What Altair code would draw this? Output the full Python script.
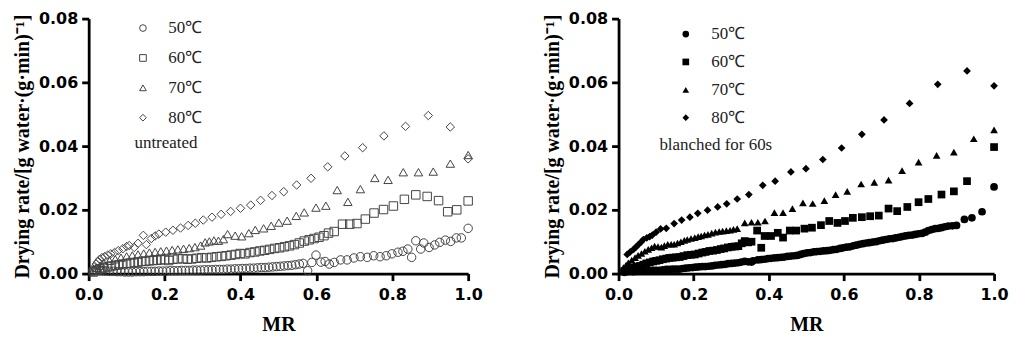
import altair as alt
import pandas as pd

temps = ["50℃", "60℃", "70℃", "80℃"]
shapes = ["circle", "square", "triangle-up", "diamond"]
x_ticks = [0.0, 0.2, 0.4, 0.6, 0.8, 1.0]
y_ticks = [0.0, 0.02, 0.04, 0.06, 0.08]

# untreated (left panel): (MR, drying rate)
u50 = [(0.012,0.0008),(0.02,0.0012),(0.028,0.0010),(0.036,0.0009),(0.045,0.0008),(0.055,0.0007),(0.065,0.0007),(0.075,0.0006),(0.085,0.0006),(0.095,0.0005),(0.105,0.0005),(0.115,0.0005),(0.125,0.0006),(0.135,0.0006),(0.145,0.0006),(0.155,0.0007),(0.165,0.0007),(0.175,0.0007),(0.185,0.0008),(0.195,0.0008),(0.205,0.0008),(0.215,0.0009),(0.225,0.0009),(0.235,0.0009),(0.245,0.0010),(0.255,0.0010),(0.265,0.0010),(0.275,0.0011),(0.285,0.0011),(0.295,0.0011),(0.305,0.0012),(0.315,0.0012),(0.325,0.0012),(0.335,0.0013),(0.345,0.0013),(0.355,0.0013),(0.365,0.0014),(0.375,0.0014),(0.385,0.0015),(0.395,0.0015),(0.405,0.0016),(0.415,0.0016),(0.425,0.0017),(0.435,0.0017),(0.445,0.0018),(0.455,0.0019),(0.465,0.0019),(0.475,0.0020),(0.485,0.0021),(0.495,0.0022),(0.505,0.0023),(0.515,0.0024),(0.525,0.0025),(0.535,0.0026),(0.545,0.0028),(0.555,0.0030),(0.565,0.0032),(0.577,0.0009),(0.588,0.0035),(0.599,0.0058),(0.612,0.0036),(0.623,0.0038),(0.634,0.0030),(0.647,0.0035),(0.664,0.0043),(0.681,0.0043),(0.699,0.0049),(0.716,0.0053),(0.734,0.0051),(0.751,0.0056),(0.768,0.0053),(0.784,0.0056),(0.799,0.0062),(0.815,0.0067),(0.828,0.0070),(0.841,0.0077),(0.851,0.0051),(0.862,0.0103),(0.875,0.0077),(0.883,0.0096),(0.897,0.0082),(0.912,0.0090),(0.925,0.0098),(0.940,0.0105),(0.954,0.0101),(0.969,0.0112),(0.982,0.0112),(1.0,0.0142)]
u60 = [(0.012,0.0005),(0.02,0.0010),(0.03,0.0015),(0.04,0.0018),(0.05,0.0021),(0.06,0.0024),(0.07,0.0026),(0.08,0.0028),(0.09,0.0030),(0.10,0.0032),(0.11,0.0033),(0.12,0.0035),(0.13,0.0036),(0.14,0.0038),(0.15,0.0039),(0.16,0.0040),(0.17,0.0041),(0.18,0.0042),(0.19,0.0043),(0.20,0.0044),(0.211,0.0041),(0.222,0.0045),(0.235,0.0046),(0.248,0.0047),(0.26,0.0045),(0.272,0.0046),(0.285,0.0048),(0.298,0.0050),(0.311,0.0049),(0.324,0.0051),(0.337,0.0053),(0.35,0.0054),(0.362,0.0056),(0.375,0.0058),(0.387,0.0060),(0.399,0.0063),(0.412,0.0062),(0.425,0.0066),(0.438,0.0068),(0.451,0.0071),(0.464,0.0073),(0.477,0.0076),(0.49,0.0079),(0.503,0.0081),(0.516,0.0084),(0.529,0.0087),(0.542,0.0091),(0.555,0.0096),(0.568,0.0102),(0.581,0.0106),(0.594,0.0110),(0.607,0.0114),(0.62,0.0119),(0.632,0.0127),(0.647,0.0132),(0.669,0.0155),(0.688,0.0155),(0.707,0.0157),(0.729,0.0171),(0.752,0.0190),(0.777,0.0201),(0.803,0.0212),(0.832,0.0233),(0.862,0.0247),(0.892,0.0242),(0.922,0.0229),(0.946,0.0194),(0.97,0.0200),(1.0,0.0228)]
u70 = [(0.012,0.0010),(0.02,0.0018),(0.03,0.0025),(0.04,0.0032),(0.055,0.0040),(0.07,0.0045),(0.085,0.0050),(0.10,0.0054),(0.115,0.0057),(0.13,0.0060),(0.145,0.0063),(0.16,0.0066),(0.175,0.0068),(0.19,0.0070),(0.205,0.0072),(0.22,0.0074),(0.235,0.0076),(0.25,0.0078),(0.265,0.0080),(0.28,0.0083),(0.295,0.0088),(0.307,0.0098),(0.318,0.0101),(0.33,0.0104),(0.342,0.0103),(0.355,0.0108),(0.366,0.0124),(0.386,0.0119),(0.403,0.0117),(0.422,0.0127),(0.439,0.0137),(0.461,0.0142),(0.481,0.0150),(0.501,0.0160),(0.523,0.0166),(0.547,0.0181),(0.568,0.0192),(0.599,0.0207),(0.625,0.0213),(0.655,0.0262),(0.683,0.0225),(0.716,0.0265),(0.754,0.0300),(0.789,0.0294),(0.829,0.0318),(0.869,0.0318),(0.908,0.0320),(0.953,0.0345),(1.0,0.0372)]
u80 = [(0.015,0.0020),(0.02,0.0030),(0.025,0.0038),(0.029,0.0045),(0.035,0.0050),(0.042,0.0053),(0.05,0.0058),(0.058,0.0062),(0.068,0.0066),(0.078,0.0072),(0.09,0.0078),(0.1,0.0085),(0.107,0.0088),(0.12,0.0082),(0.13,0.0095),(0.144,0.0120),(0.152,0.0091),(0.165,0.0110),(0.175,0.0118),(0.185,0.0124),(0.203,0.0130),(0.222,0.0136),(0.242,0.0143),(0.262,0.0151),(0.281,0.0158),(0.302,0.0168),(0.325,0.0177),(0.349,0.0186),(0.374,0.0195),(0.40,0.0205),(0.427,0.0215),(0.453,0.0230),(0.483,0.0245),(0.514,0.0257),(0.548,0.0278),(0.586,0.0299),(0.63,0.0335),(0.675,0.0369),(0.722,0.0395),(0.778,0.0432),(0.835,0.0462),(0.895,0.0496),(0.953,0.0460),(1.0,0.0360)]

# blanched for 60 s (right panel)
b50 = [(0.015,0.0004),(0.022,0.0006),(0.03,0.0007),(0.039,0.0006),(0.048,0.0007),(0.057,0.0008),(0.066,0.0008),(0.074,0.0008),(0.083,0.0009),(0.092,0.0010),(0.1,0.0010),(0.109,0.0010),(0.118,0.0012),(0.127,0.0013),(0.135,0.0013),(0.144,0.0014),(0.153,0.0014),(0.162,0.0014),(0.171,0.0016),(0.179,0.0017),(0.188,0.0018),(0.197,0.0019),(0.205,0.0020),(0.214,0.0021),(0.223,0.0022),(0.231,0.0022),(0.24,0.0023),(0.249,0.0024),(0.257,0.0026),(0.266,0.0027),(0.275,0.0028),(0.284,0.0029),(0.292,0.0031),(0.301,0.0032),(0.31,0.0033),(0.319,0.0034),(0.327,0.0036),(0.336,0.0038),(0.345,0.0037),(0.354,0.0036),(0.358,0.0040),(0.371,0.0043),(0.38,0.0044),(0.389,0.0045),(0.398,0.0047),(0.406,0.0048),(0.415,0.0049),(0.424,0.0050),(0.433,0.0051),(0.441,0.0052),(0.45,0.0054),(0.459,0.0055),(0.468,0.0056),(0.476,0.0057),(0.485,0.0060),(0.493,0.0063),(0.502,0.0065),(0.511,0.0066),(0.52,0.0068),(0.528,0.0069),(0.537,0.0070),(0.546,0.0071),(0.555,0.0072),(0.563,0.0073),(0.572,0.0075),(0.581,0.0076),(0.59,0.0079),(0.598,0.0081),(0.607,0.0083),(0.616,0.0084),(0.625,0.0087),(0.633,0.0089),(0.642,0.0092),(0.651,0.0094),(0.66,0.0096),(0.668,0.0097),(0.677,0.0099),(0.686,0.0100),(0.695,0.0103),(0.703,0.0105),(0.712,0.0107),(0.721,0.0109),(0.73,0.0110),(0.738,0.0112),(0.747,0.0114),(0.755,0.0116),(0.764,0.0118),(0.773,0.0120),(0.782,0.0121),(0.79,0.0123),(0.799,0.0125),(0.808,0.0126),(0.817,0.0130),(0.825,0.0135),(0.834,0.0138),(0.843,0.0141),(0.852,0.0142),(0.86,0.0144),(0.869,0.0147),(0.878,0.0149),(0.889,0.0150),(0.9,0.0151),(0.921,0.0170),(0.941,0.0175),(0.968,0.0194),(1.0,0.0272)]
b60 = [(0.015,0.0008),(0.022,0.0010),(0.03,0.0015),(0.039,0.0019),(0.048,0.0022),(0.057,0.0024),(0.066,0.0028),(0.074,0.0032),(0.083,0.0035),(0.092,0.0038),(0.1,0.0040),(0.109,0.0042),(0.118,0.0045),(0.127,0.0047),(0.135,0.0049),(0.144,0.0050),(0.153,0.0051),(0.163,0.0052),(0.173,0.0055),(0.183,0.0058),(0.193,0.0059),(0.203,0.0060),(0.213,0.0063),(0.223,0.0066),(0.232,0.0068),(0.242,0.0071),(0.252,0.0072),(0.262,0.0074),(0.272,0.0077),(0.281,0.0079),(0.291,0.0082),(0.301,0.0084),(0.31,0.0085),(0.319,0.0086),(0.328,0.0095),(0.336,0.0102),(0.345,0.0098),(0.354,0.0100),(0.369,0.0135),(0.38,0.0081),(0.389,0.0118),(0.406,0.0118),(0.424,0.0128),(0.438,0.0113),(0.456,0.0135),(0.473,0.0135),(0.495,0.0141),(0.515,0.0144),(0.539,0.0152),(0.561,0.0165),(0.583,0.0159),(0.603,0.0165),(0.624,0.0175),(0.648,0.0177),(0.67,0.0180),(0.693,0.0182),(0.719,0.0204),(0.742,0.0196),(0.769,0.0209),(0.799,0.0224),(0.825,0.0234),(0.86,0.0248),(0.893,0.0258),(0.928,0.0290),(1.0,0.0397)]
b70 = [(0.013,0.0019),(0.02,0.0027),(0.026,0.0034),(0.035,0.0042),(0.044,0.0050),(0.052,0.0057),(0.061,0.0063),(0.07,0.0070),(0.079,0.0076),(0.088,0.0081),(0.096,0.0086),(0.105,0.0085),(0.114,0.0083),(0.122,0.0088),(0.131,0.0092),(0.14,0.0092),(0.148,0.0092),(0.157,0.0096),(0.166,0.0100),(0.175,0.0104),(0.183,0.0107),(0.193,0.0110),(0.203,0.0113),(0.212,0.0116),(0.22,0.0118),(0.229,0.0121),(0.238,0.0123),(0.248,0.0127),(0.258,0.0130),(0.268,0.0132),(0.277,0.0133),(0.287,0.0135),(0.297,0.0136),(0.306,0.0139),(0.316,0.0141),(0.336,0.0159),(0.354,0.0161),(0.371,0.0161),(0.39,0.0165),(0.415,0.0191),(0.438,0.0191),(0.463,0.0204),(0.491,0.0222),(0.517,0.0220),(0.548,0.0229),(0.578,0.0248),(0.609,0.0258),(0.646,0.0281),(0.681,0.0286),(0.719,0.0293),(0.755,0.0323),(0.799,0.0350),(0.847,0.0371),(0.893,0.0381),(0.946,0.0423),(1.0,0.0451)]
b80 = [(0.023,0.0060),(0.031,0.0068),(0.04,0.0076),(0.047,0.0084),(0.053,0.0091),(0.06,0.0099),(0.066,0.0107),(0.075,0.0112),(0.083,0.0116),(0.09,0.0121),(0.1,0.0130),(0.112,0.0140),(0.127,0.0142),(0.148,0.0157),(0.168,0.0168),(0.19,0.0177),(0.211,0.0189),(0.237,0.0199),(0.264,0.0209),(0.288,0.0219),(0.316,0.0234),(0.347,0.0248),(0.384,0.0277),(0.417,0.0290),(0.459,0.0319),(0.499,0.0329),(0.544,0.0358),(0.594,0.0394),(0.648,0.0437),(0.707,0.0482),(0.775,0.0534),(0.85,0.0594),(0.928,0.0636),(1.0,0.0589)]

Y_TITLE = "Drying rate/[g water·(g·min)⁻¹]"
SERIF = "Liberation Serif"


def frame(series):
    rows = []
    for t, pts in zip(temps, series):
        for mr, r in pts:
            rows.append({"MR": mr, "rate": r, "T": t})
    return pd.DataFrame(rows)


def panel(df, filled, color, note, lx, ly, row_pad, nx, ny, size, width):
    x = alt.X("MR:Q", scale=alt.Scale(domain=[0, 1], nice=False),
              axis=alt.Axis(values=x_ticks, format=".1f", title="MR"))
    y = alt.Y("rate:Q", scale=alt.Scale(domain=[0, 0.08], nice=False),
              axis=alt.Axis(values=y_ticks, format=".2f", title=Y_TITLE))
    legend = alt.Legend(
        orient="none", legendX=lx, legendY=ly, title=None,
        symbolSize=45, symbolStrokeColor=color,
        symbolFillColor=(color if filled else "transparent"),
        symbolStrokeWidth=1, labelFont=SERIF, labelFontSize=17,
        labelColor="#222222", labelOffset=17, rowPadding=row_pad, padding=0,
    )
    pts = alt.Chart(df).mark_point(
        filled=filled, color=color, opacity=1, strokeWidth=1, size=size
    ).encode(
        x=x, y=y,
        shape=alt.Shape("T:N", scale=alt.Scale(domain=temps, range=shapes), legend=legend),
    )
    txt = alt.Chart(pd.DataFrame({"note": [note]})).mark_text(
        align="left", baseline="middle", font=SERIF, fontSize=17, color="#222222"
    ).encode(text="note:N", x=alt.value(nx), y=alt.value(ny))
    return alt.layer(pts, txt).properties(width=width, height=256)


left = panel(frame([u50, u60, u70, u80]), False, "#444444", "untreated",
             46, 1, 12, 46, 125, 72, 381)
right = panel(frame([b50, b60, b70, b80]), True, "#000000", "blanched for 60s",
              59, 7, 10, 41, 127, 60, 377)

chart = alt.hconcat(left, right, spacing=59).resolve_scale(
    shape="independent"
).resolve_legend(shape="independent").properties(
    padding={"left": 4, "top": 2, "right": 0, "bottom": 0}
).configure_view(stroke=None).configure_axis(
    grid=False, domainColor="black", domainWidth=2.8, tickColor="black",
    tickWidth=2.8, tickSize=7, labelFont="DejaVu Sans", labelFontWeight="bold",
    labelFontSize=16, labelColor="black", labelPadding=4, labelFlush=False,
    titleFont=SERIF, titleFontSize=20, titleFontWeight="bold", titleColor="black",
).configure_axisX(titlePadding=12, labelPadding=6).configure_axisY(titlePadding=6)

chart.save("out.html", embed_options={"renderer": "svg", "actions": False})
